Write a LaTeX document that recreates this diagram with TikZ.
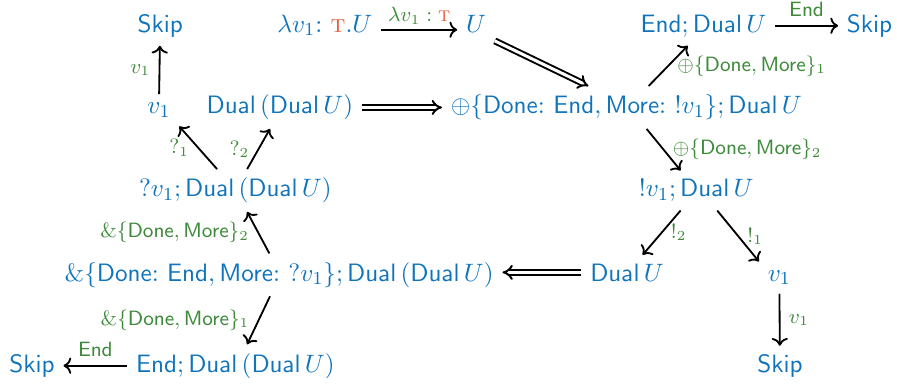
\documentclass[tikz,border=0pt,11pt]{standalone}
\usetikzlibrary{arrows.meta,calc}

\definecolor{tblue}{RGB}{16,116,188}
\definecolor{tgreen}{RGB}{62,138,58}
\definecolor{tred}{RGB}{236,92,58}

\newcommand{\kw}[1]{\mathsf{#1}}
\newcommand{\tyT}{\textcolor{tred}{\mbox{\textsc{t}}}}
\newcommand{\cln}{\colon\,}

\begin{document}
\begin{tikzpicture}
		\tikzstyle{typ}=[text=tblue, anchor=base];
		\tikzstyle{lbl}=[text=tgreen, font=\footnotesize];
		\tikzstyle{arr}=[->, thick];
		\tikzstyle{dbl}=[double, double distance=1.3pt, line width=0.85pt, -{Implies[scale=1.3, round]}];

		\useasboundingbox (0,0) rectangle (13.72,5.86);

		\node[typ] (SkipTL) at (2.45,5.37) {$\kw{Skip}$};
		\node[typ] (Lam) at (4.97,5.37) {$\lambda v_1\cln \tyT.U$};
		\node[typ] (U) at (7.28,5.37) {$U$};
		\node[typ] (EndD) at (10.76,5.37) {$\kw{End};\kw{Dual}\,U$};
		\node[typ] (SkipTR) at (13.30,5.37) {$\kw{Skip}$};

		\node[typ] (vL) at (2.43,4.12) {$v_1$};
		\node[typ] (DD) at (4.28,4.12) {$\kw{Dual}\,(\kw{Dual}\,U)$};
		\node[typ] (Plus) at (9.58,4.12) {$\oplus\{\kw{Done}\cln\kw{End},\kw{More}\cln {!}v_1\};\kw{Dual}\,U$};

		\node[typ] (QD) at (3.60,2.85) {$?v_1;\kw{Dual}\,(\kw{Dual}\,U)$};
		\node[typ] (Bang) at (10.65,2.85) {${!}v_1;\kw{Dual}\,U$};

		\node[typ] (With) at (4.27,1.56) {$\&\{\kw{Done}\cln\kw{End},\kw{More}\cln ?v_1\};\kw{Dual}\,(\kw{Dual}\,U)$};
		\node[typ] (DualU) at (9.59,1.56) {$\kw{Dual}\,U$};
		\node[typ] (vR) at (11.92,1.56) {$v_1$};

		\node[typ] (SkipBL) at (0.49,0.17) {$\kw{Skip}$};
		\node[typ] (EndDD) at (3.60,0.17) {$\kw{End};\kw{Dual}\,(\kw{Dual}\,U)$};
		\node[typ] (SkipBR) at (11.93,0.17) {$\kw{Skip}$};

		% left part
		\draw[arr] (vL) to node[lbl, left] {$v_1$} (SkipTL) ;
		\draw[arr] ([xshift=-0.28cm]QD.north) to node[lbl, left] {$?_1$} (vL.south east) ;
		\draw[arr] ([xshift=0.18cm]QD.north) to node[lbl, left] {$?_2$} ([xshift=-0.15cm]DD.south) ;
		\draw[arr] ([xshift=-0.15cm]With.north) to node[lbl, left] {$\&\{\kw{Done},\kw{More}\}_2$} ([xshift=0.18cm]QD.south) ;
		\draw[arr] ([xshift=-0.14cm]With.south) to node[lbl, left] {$\&\{\kw{Done},\kw{More}\}_1$} ([xshift=0.18cm]EndDD.north) ;
		\draw[arr] (EndDD) to node[lbl, above] {$\kw{End}$} (SkipBL) ;

		% top
		\draw[arr] ($(Lam.east)+(0,-2pt)$) to node[lbl, above, inner sep=2pt] {$\lambda v_1 : \tyT$} ($(U.west |- Lam.east)+(0,-2pt)$) ;
		\draw[dbl] (U.south east) to ([xshift=-0.58cm]Plus.north) ;
		\draw[dbl] (DD.east) to (Plus.west |- DD.east) ;

		% right part
		\draw[arr] ([xshift=0.34cm]Plus.north) to node[lbl, right] {$\oplus\{\kw{Done},\kw{More}\}_1$} ([xshift=-0.24cm]EndD.south) ;
		\draw[arr] (EndD) to node[lbl, above] {$\kw{End}$} (SkipTR) ;
		\draw[arr] ([xshift=0.31cm]Plus.south) to node[lbl, right] {$\oplus\{\kw{Done},\kw{More}\}_2$} ([xshift=-0.24cm]Bang.north) ;
		\draw[arr] ([xshift=-0.24cm]Bang.south) to node[lbl, right] {${!}_2$} ([xshift=0.24cm]DualU.north) ;
		\draw[arr] ([xshift=0.32cm]Bang.south) to node[lbl, right] {${!}_1$} (vR.north west) ;
		\draw[arr] (vR) to node[lbl, right] {$v_1$} (SkipBR) ;
		\draw[dbl] (DualU.west) to (With.east |- DualU.west) ;
        \end{tikzpicture}
\end{document}
